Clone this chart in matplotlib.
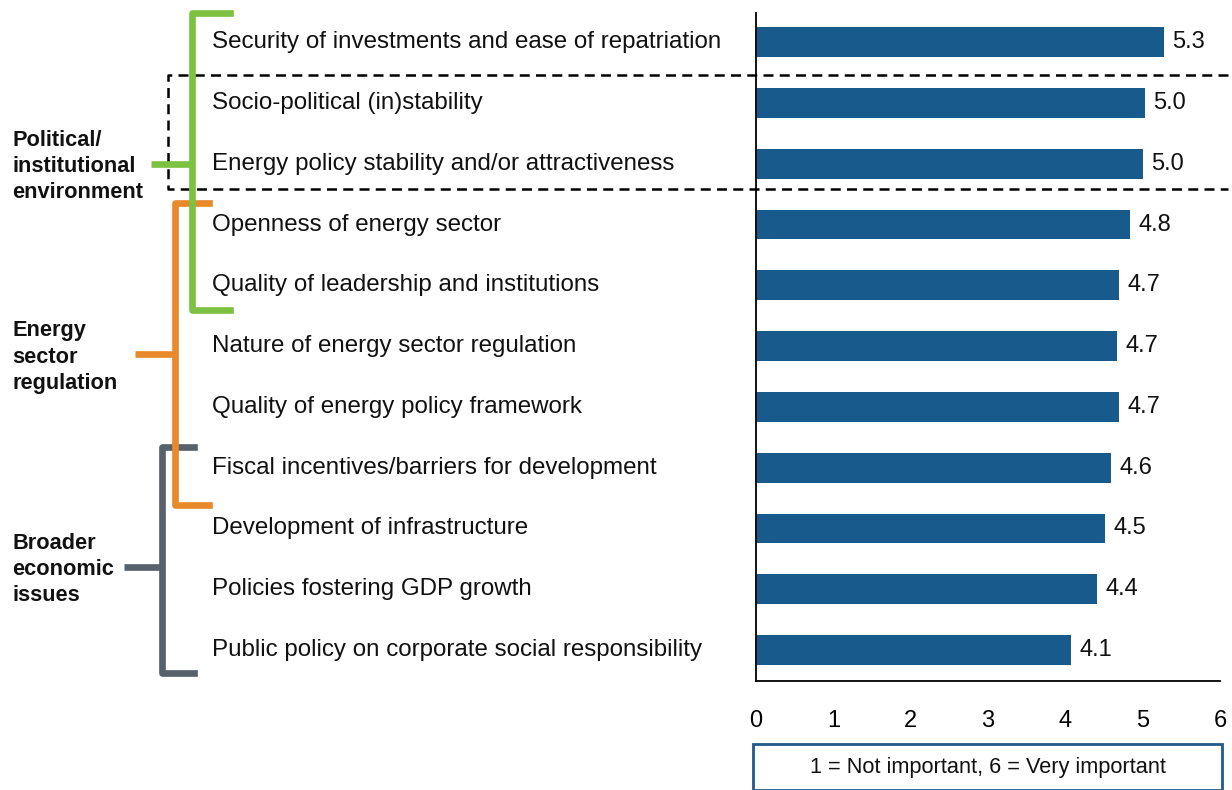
import matplotlib.pyplot as plt
from matplotlib.transforms import blended_transform_factory
from matplotlib.patches import Rectangle

plt.rcParams['font.family'] = ['Liberation Sans', 'DejaVu Sans']

factors = [
    "Security of investments and ease of repatriation",
    "Socio-political (in)stability",
    "Energy policy stability and/or attractiveness",
    "Openness of energy sector",
    "Quality of leadership and institutions",
    "Nature of energy sector regulation",
    "Quality of energy policy framework",
    "Fiscal incentives/barriers for development",
    "Development of infrastructure",
    "Policies fostering GDP growth",
    "Public policy on corporate social responsibility",
]
scores = [5.27, 5.03, 5.0, 4.83, 4.70, 4.67, 4.70, 4.59, 4.51, 4.41, 4.07]
score_labels = ["5.3", "5.0", "5.0", "4.8", "4.7", "4.7", "4.7", "4.6", "4.5", "4.4", "4.1"]
x_ticks = [0, 1, 2, 3, 4, 5, 6]

# groups: label, colour, bracket top row, bracket bottom row, label row
groups = [
    ("Broader\neconomic\nissues", "#56616c", 6.66, 10.38, 8.63),
    ("Energy\nsector\nregulation", "#e8892b", 2.65, 7.62, 5.13),
    ("Political/\ninstitutional\nenvironment", "#7cc142", -0.48, 4.41, 2.0),
]
# bracket x positions in figure pixels: spine, tick end right, tick end left
bracket_x = [(162, 194, 124), (175, 209, 135), (192, 230, 151)]

bar_color = "#185a8c"
W, H = 1232, 790

fig = plt.figure(figsize=(W / 100, H / 100), dpi=100)
ax = fig.add_axes([756 / W, 1 - 681 / H, (1220 - 756) / W, (681 - 13) / H])

rows = list(range(len(factors)))
ax.barh(rows, scores, height=0.49, color=bar_color)
for r, s, lab in zip(rows, scores, score_labels):
    ax.text(s + 0.11, r, lab, va="center", ha="left", fontsize=17, color="#111111")

ax.set_xlim(0, 6)
ax.set_ylim(10.51, -0.48)
ax.set_yticks([])
ax.set_xticks(x_ticks)
ax.tick_params(axis="x", length=0, pad=21, labelsize=17)
for side in ["top", "right"]:
    ax.spines[side].set_visible(False)
ax.spines["left"].set_linewidth(1.3)
ax.spines["bottom"].set_linewidth(1.3)

trans = blended_transform_factory(fig.transFigure, ax.transData)

for r, name in zip(rows, factors):
    ax.text(212 / W, r, name, transform=trans, va="center", ha="left", fontsize=17.4, color="#111111")

# brackets
for z, ((label, color, y0, y1, ymid), (xs, xr, xl)) in enumerate(zip(groups, bracket_x)):
    ax.plot([xr / W, xs / W, xs / W, xr / W], [y0, y0, y1, y1], transform=trans,
            color=color, lw=4.8, clip_on=False, solid_joinstyle="round", zorder=3 + z)
    ax.plot([xl / W, xs / W], [ymid, ymid], transform=trans, color=color, lw=4.8,
            clip_on=False, solid_capstyle="butt", zorder=3 + z)
    ax.text(12 / W, ymid + 0.05, label, transform=trans, va="center", ha="left", fontsize=15.7,
            fontweight="bold", linespacing=1.32, color="#111111")

# dashed box around the two stability rows
box_top, box_bot = 0.54, 2.42
ax.plot([1228 / W, 168 / W, 168 / W, 1228 / W], [box_top, box_top, box_bot, box_bot],
        transform=trans, color="black", lw=1.8, ls=(0, (4, 2.5)), clip_on=False, zorder=2)

# scale note box
fig.patches.append(Rectangle((753 / W, 0), (1222 - 753) / W, (790 - 744) / H,
                             transform=fig.transFigure, fill=False, edgecolor="#1f5a8a", lw=2))
fig.text((753 + 1222) / 2 / W, 1 - 768 / H, "1 = Not important, 6 = Very important",
         ha="center", va="center", fontsize=15.7, color="#111111")

fig.savefig("out.png", dpi=100)
